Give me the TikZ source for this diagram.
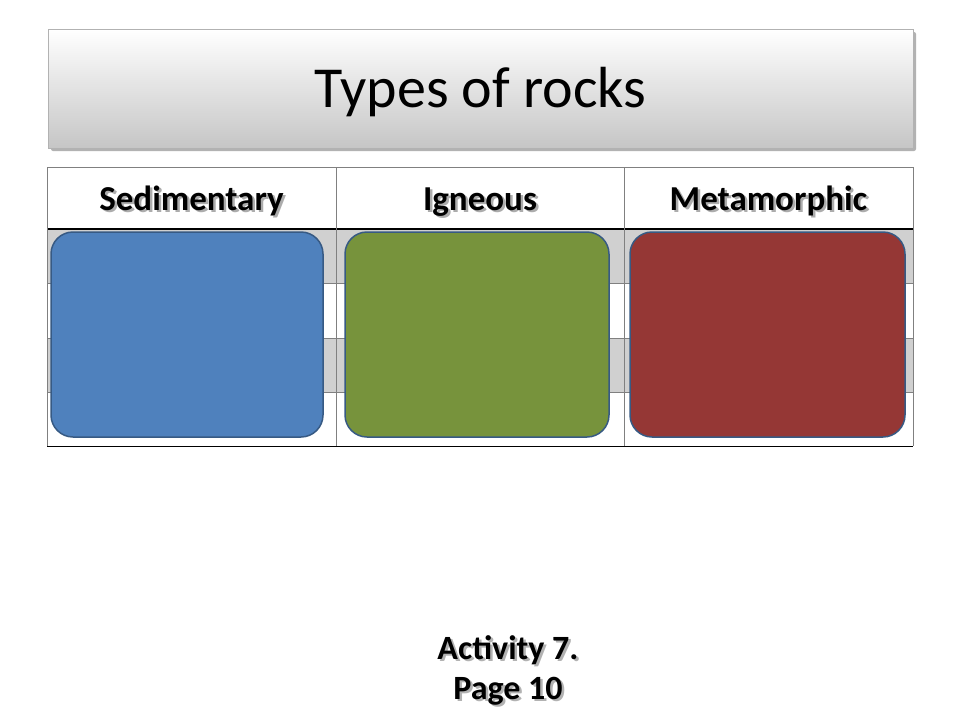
\documentclass[tikz,border=0pt]{standalone}
\usepackage{fontspec}
\setmainfont{Carlito}
\definecolor{bluebox}{HTML}{4F81BD}
\definecolor{greenbox}{HTML}{77933C}
\definecolor{redbox}{HTML}{953735}
\definecolor{rowgrey}{HTML}{D0D0D0}
\begin{document}
\begin{tikzpicture}[x=1pt,y=-1pt,
  hdr/.style={font=\bfseries\fontsize{35}{40}\selectfont,anchor=base},
  rock/.style={draw=bluebox!70!black,line width=1.5pt,rounded corners=22pt},
  shadowtext/.style={font=\bfseries\fontsize{34}{40}\selectfont,anchor=base}]
\useasboundingbox (0,0) rectangle (960,720);
\fill[white] (0,0) rectangle (960,720);
% title
\fill[gray!60,rounded corners=2pt] (51,32) rectangle (916,151);
\shade[top color=white,bottom color=gray!45,draw=gray!60] (48,29) rectangle (913,148);
\node[anchor=base] (title) at (480.5,107) {\fontsize{58}{66}\selectfont Types of rocks};
% table
\fill[rowgrey] (47,229) rectangle (913,283);
\fill[rowgrey] (47,338) rectangle (913,392);
\draw[gray] (47,167) -- (913,167);
\draw[gray] (47,283) -- (913,283);
\draw[gray] (47,338) -- (913,338);
\draw[gray] (47,392) -- (913,392);
\draw[black,line width=1.2pt] (47,229) -- (913,229);
\draw[black,line width=1pt] (47,446) -- (913,446);
\foreach \x in {47,336,624,913} \draw[gray] (\x,167) -- (\x,446);
\foreach \t/\x in {Sedimentary/191.5,Igneous/480,Metamorphic/768.5}{
  \node[hdr,text=gray!65] at (\x+2.5,212.5) {\t};
  \node[hdr] (h\t) at (\x,210) {\t};
}
\node[rock,fill=bluebox,minimum width=272pt,minimum height=205pt] (sed) at (187,334.5) {};
\node[rock,fill=greenbox,minimum width=264pt,minimum height=205pt] (ign) at (477,334.5) {};
\node[rock,fill=redbox,minimum width=275pt,minimum height=205pt] (met) at (767.5,334.5) {};
% activity
\node[shadowtext,text=gray!60] at (510.5,661.5) {Activity 7.};
\node[shadowtext] (act) at (508,659) {Activity 7.};
\node[shadowtext,text=gray!60] at (510.5,701.5) {Page 10};
\node[shadowtext] (page) at (508,699) {Page 10};
\end{tikzpicture}
\end{document}
